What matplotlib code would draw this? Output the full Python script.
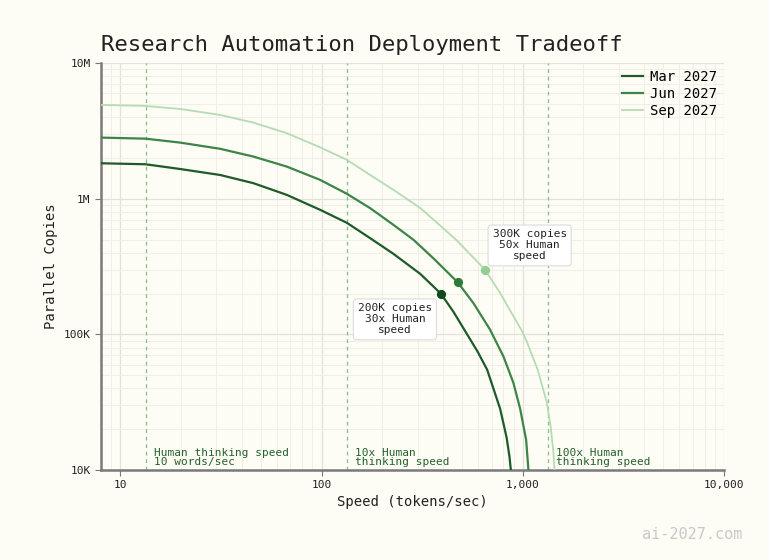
import matplotlib
matplotlib.use("Agg")
import matplotlib.pyplot as plt
from matplotlib.ticker import FixedLocator, FixedFormatter, LogLocator, NullFormatter

# values (speed in tokens/sec, copies)
mar_speed = [8.0, 13.3, 19.8, 31.3, 45.8, 67.1, 98.3, 133.4, 174.2, 227.4, 308.8, 391.2,
             451.9, 526.8, 595.0, 664.6, 771.2, 830.8, 857.9, 871.9]
mar_copies = [1.83e6, 1.80e6, 1.66e6, 1.50e6, 1.305e6, 1.07e6, 830e3, 666e3, 513e3, 393e3,
              280e3, 200e3, 147e3, 101e3, 75e3, 55.0e3, 28.3e3, 17.3e3, 12.6e3, 10e3]

jun_speed = [8.0, 13.3, 19.8, 31.3, 45.8, 67.1, 98.3, 133.4, 174.2, 227.4, 286.0, 359.5,
             475.2, 568.3, 687.8, 801.0, 848.1, 898.3, 969.7, 1038.5, 1066.1]
jun_copies = [2.83e6, 2.78e6, 2.60e6, 2.34e6, 2.05e6, 1.73e6, 1.38e6, 1.09e6, 854e3, 643e3,
              499e3, 364e3, 242e3, 170e3, 108.3e3, 68.8e3, 55.0e3, 43.8e3, 28.3e3, 16.7e3, 10e3]

sep_speed = [8.0, 13.3, 19.8, 31.3, 45.8, 67.1, 98.3, 133.4, 174.2, 227.4, 308.8, 466.1,
             649.6, 771.2, 898.3, 988.6, 1046.9, 1184.8, 1313.3, 1374.9, 1419.6, 1436.0]
sep_copies = [4.93e6, 4.85e6, 4.60e6, 4.16e6, 3.65e6, 3.05e6, 2.40e6, 1.94e6, 1.50e6, 1.165e6,
              858e3, 499e3, 300e3, 202e3, 136e3, 106.5e3, 88.3e3, 55e3, 31.9e3, 20.9e3, 13.4e3, 10e3]

series_names = ["Mar 2027", "Jun 2027", "Sep 2027"]
line_colors = ["#1f5a2a", "#3d8447", "#b5dbb3"]
dot_colors = ["#0f4a1c", "#2f7a38", "#93cf93"]

# highlighted points
mark_speed = [391, 475, 650]
mark_copies = [200e3, 242e3, 300e3]

human_speed = [13.33, 133.3, 1333]
human_labels = ["Human thinking speed\n10 words/sec", "10x Human\nthinking speed",
                "100x Human\nthinking speed"]

x_ticks = [10, 100, 1000, 10000]
x_tick_labels = ["10", "100", "1,000", "10,000"]
y_ticks = [1e4, 1e5, 1e6, 1e7]
y_tick_labels = ["10K", "100K", "1M", "10M"]

bg = "#fdfdf5"
mono = "DejaVu Sans Mono"

fig = plt.figure(figsize=(7.69, 5.60), dpi=100, facecolor=bg)
ax = fig.add_axes([0.1313, 0.1607, 0.8102, 0.7263])
ax.set_facecolor(bg)
ax.set_xscale("log")
ax.set_yscale("log")
ax.set_xlim(8, 10000)
ax.set_ylim(1e4, 1e7)

ax.grid(True, which="major", color="#e2e2dc", linewidth=0.9)
ax.grid(True, which="minor", color="#efefe8", linewidth=0.7)
ax.set_axisbelow(True)

for xv, lab in zip(human_speed, human_labels):
    ax.axvline(xv, color="#86bd86", linestyle=(0, (3, 3)), linewidth=0.9, zorder=1)
    ax.annotate(lab, xy=(xv, 1e4), xytext=(6, 2), textcoords="offset points",
                ha="left", va="bottom", fontsize=8, family=mono, color="#24602c",
                linespacing=0.95)

speeds = [mar_speed, jun_speed, sep_speed]
copies = [mar_copies, jun_copies, sep_copies]
widths = [1.6, 1.6, 1.3]
for sx, sy, name, c, w in zip(speeds, copies, series_names, line_colors, widths):
    ax.plot(sx, sy, color=c, linewidth=w, label=name, zorder=3, solid_joinstyle="round")

for mx, my, c in zip(mark_speed, mark_copies, dot_colors):
    ax.plot(mx, my, "o", color=c, markersize=5.6, zorder=4)

box = dict(boxstyle="round,pad=0.4,rounding_size=0.3", fc="white", ec="#dcdcdc", lw=0.8)
ax.annotate("200K copies\n30x Human\nspeed", xy=(mark_speed[0], mark_copies[0]),
            xytext=(-33, -18.5), textcoords="offset points", ha="center", va="center",
            fontsize=8, family=mono, color="#222222", bbox=box, linespacing=1.12, zorder=5)
ax.annotate("300K copies\n50x Human\nspeed", xy=(mark_speed[2], mark_copies[2]),
            xytext=(32, 17.5), textcoords="offset points", ha="center", va="center",
            fontsize=8, family=mono, color="#222222", bbox=box, linespacing=1.12, zorder=5)

ax.xaxis.set_major_locator(FixedLocator(x_ticks))
ax.xaxis.set_major_formatter(FixedFormatter(x_tick_labels))
ax.yaxis.set_major_locator(FixedLocator(y_ticks))
ax.yaxis.set_major_formatter(FixedFormatter(y_tick_labels))
ax.xaxis.set_minor_locator(LogLocator(base=10, subs=range(2, 10)))
ax.yaxis.set_minor_locator(LogLocator(base=10, subs=range(2, 10)))
ax.xaxis.set_minor_formatter(NullFormatter())
ax.yaxis.set_minor_formatter(NullFormatter())
ax.tick_params(which="major", length=4, width=0.8, color="#777777", labelsize=8,
               labelcolor="#222222")
ax.tick_params(which="minor", length=0)
for t in ax.get_xticklabels() + ax.get_yticklabels():
    t.set_family(mono)

for s in ["top", "right"]:
    ax.spines[s].set_visible(False)
for s in ["left", "bottom"]:
    ax.spines[s].set_color("#7a7a7a")
    ax.spines[s].set_linewidth(1.8)

ax.set_xlabel("Speed (tokens/sec)", family=mono, fontsize=10, color="#222222", labelpad=3)
ax.set_ylabel("Parallel Copies", family=mono, fontsize=10, color="#222222", labelpad=4)
ax.set_title("Research Automation Deployment Tradeoff", family=mono, fontsize=16,
             color="#222222", loc="left", pad=9)

leg = ax.legend(loc="upper right", frameon=False, prop={"family": mono, "size": 10},
                handlelength=1.5, handletextpad=0.5, labelspacing=0.2,
                borderaxespad=0.1)

fig.text(0.966, 0.045, "ai-2027.com", family=mono, fontsize=11, color="#c9c9c9",
         ha="right", va="center")

fig.savefig("out.png", dpi=100, facecolor=bg)
